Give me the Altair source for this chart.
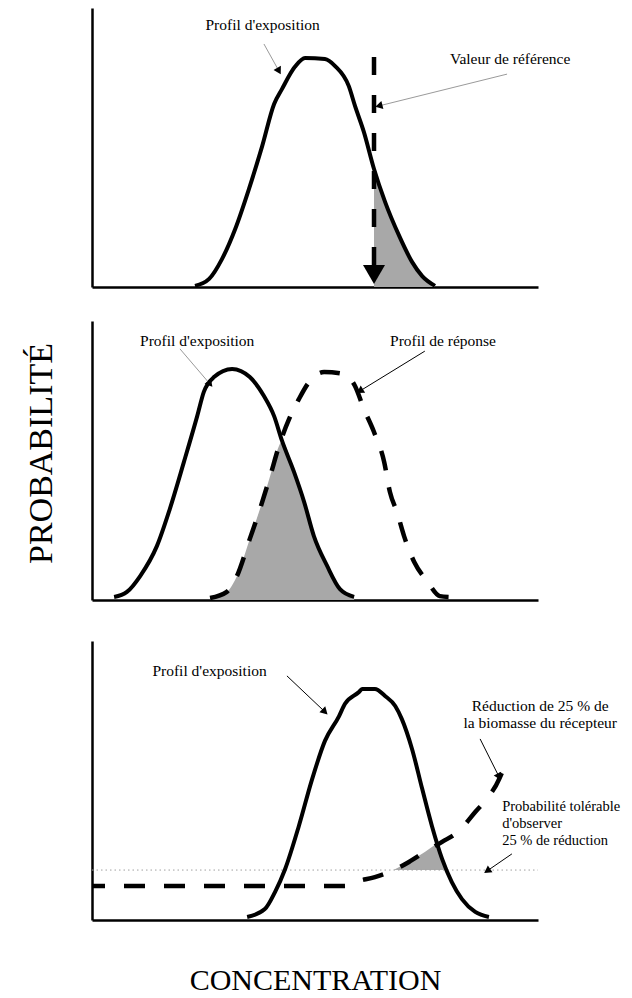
import altair as alt
import pandas as pd

# ---------------- Panel 1 : exposure profile vs reference value ----------------
exp1_x = [23.3, 26.5, 29.4, 32.4, 35.5, 38.5, 41.2, 43.0, 45.9, 48.2, 52.7, 55.0, 58.1, 59.5, 61.5, 63.8, 66.3, 69.5, 72.4, 74.7, 77.6]
exp1_y = [0.4, 2.9, 10.0, 20.8, 35.1, 50.5, 65.6, 71.0, 78.9, 82.1, 81.7, 79.2, 72.0, 64.9, 55.6, 42.3, 30.5, 18.3, 9.0, 3.9, 0.4]
ref1_x = 63.8          # reference value (concentration)
ref1_top = 82.4
ref1_base = 7.5
ref1_head = 4.5

lab1_text = ["Profil d'exposition", "Valeur de référence"]
lab1_x = [38.6, 94.6]
lab1_y = [93.9, 81.7]
arr1_x = [38.9, 93.9]
arr1_y = [87.1, 76.3]
arr1_x2 = [42.3, 64.9]
arr1_y2 = [77.4, 64.9]
arr1_col = ["#9a9a9a", "#9a9a9a"]
arr1_ang = [151, 256]

# ---------------- Panel 2 : exposure vs response profiles ----------------
exp2_x = [5.0, 7.9, 10.9, 14.7, 17.6, 20.8, 23.8, 25.3, 27.6, 31.7, 35.7, 38.9, 41.2, 43.0, 45.7, 48.0, 50.2, 53.2, 56.1, 59.3]
exp2_y = [1.1, 2.9, 8.6, 19.4, 32.6, 49.5, 65.9, 74.6, 79.9, 82.8, 79.9, 73.1, 65.9, 57.0, 45.9, 35.1, 22.9, 12.2, 3.9, 1.1]
resp2_x = [26.7, 30.5, 32.8, 35.7, 38.0, 40.3, 42.3, 44.6, 46.8, 49.3, 52.5, 57.0, 59.5, 61.5, 63.8, 66.1, 67.4, 69.0, 70.6, 72.9, 75.8, 78.7, 80.8]
resp2_y = [0.7, 2.9, 8.6, 21.9, 32.6, 44.4, 55.2, 64.9, 72.0, 78.5, 81.7, 81.0, 76.7, 68.5, 60.2, 49.5, 38.7, 31.5, 22.9, 13.6, 6.8, 1.4, 1.1]
cross2_x = 43.0

lab2_text = ["Profil d'exposition", "Profil de réponse"]
lab2_x = [23.8, 79.4]
lab2_y = [92.8, 92.8]
arr2_x = [19.9, 75.3]
arr2_y = [90.0, 89.2]
arr2_x2 = [26.7, 60.6]
arr2_y2 = [77.4, 74.9]
arr2_col = ["#9a9a9a", "black"]
arr2_ang = [139, 238]

# ---------------- Panel 3 : exposure vs dose-response ----------------
exp3_x = [35.1, 39.1, 41.4, 43.7, 46.8, 49.8, 52.7, 55.9, 57.2, 60.4, 61.1, 64.0, 66.3, 68.6, 70.1, 72.4, 74.7, 76.9, 79.2, 81.4, 83.7, 86.7, 89.8]
exp3_y = [1.1, 3.9, 10.0, 18.3, 33.7, 50.5, 64.2, 73.1, 77.4, 81.7, 82.8, 82.8, 80.3, 76.7, 72.0, 61.3, 47.0, 33.7, 21.9, 13.6, 7.5, 2.9, 1.1]
resp3_x = [0.0, 57.2, 59.5, 64.0, 67.9, 71.7, 75.3, 79.2, 83.0, 86.7, 89.8, 92.1, 93.2, 93.4]
resp3_y = [12.2, 12.2, 13.6, 15.4, 17.6, 20.8, 24.4, 28.0, 31.9, 38.7, 44.4, 50.5, 55.2, 56.6]
tol3_y = 17.9          # tolerable probability level
fill3_x = [68.2, 71.7, 75.3, 78.1, 79.2, 80.3]
fill3_y = [17.9, 20.8, 24.4, 27.5, 21.9, 17.9]

lab3_text = ["Profil d'exposition",
             "Réduction de 25 % de\nla biomasse du récepteur"]
lab3_x = [26.6, 101.4]
lab3_y = [89.2, 76.7]
lab3b_text = ["Probabilité tolérable\nd'observer\n25 % de réduction"]
lab3b_x = [92.8]
lab3b_y = [40.5]
arr3_x = [44.1, 87.8, 95.0]
arr3_y = [87.5, 64.9, 23.7]
arr3_x2 = [52.7, 92.1, 89.4]
arr3_y2 = [74.6, 51.3, 17.6]
arr3_col = ["black", "black", "black"]
arr3_ang = [134, 153, 236]

W, H = 446, 279
XDOM = [0, 100.9]
FONT = "Liberation Serif"
GRAY = "#a8a8a8"
FS = 15.5


def X(field="x", title=None, **kw):
    ax = alt.Axis(title=title, **kw) if title else alt.Axis(title=None)
    return alt.X(f"{field}:Q", scale=alt.Scale(domain=XDOM, nice=False, zero=False), axis=ax)


def Y(field="y", title=None, **kw):
    ax = alt.Axis(title=title, **kw) if title else alt.Axis(title=None)
    return alt.Y(f"{field}:Q", scale=alt.Scale(domain=[0, 100], nice=False, zero=False), axis=ax)


def arrows(xs, ys, x2s, y2s, cols, angs, xt=None, yt=None, xkw=None, ykw=None):
    df = pd.DataFrame({"x": xs, "y": ys, "x2": x2s, "y2": y2s, "c": cols, "a": angs})
    lines = alt.Chart(df).mark_rule(strokeWidth=1).encode(
        x=X(title=xt, **(xkw or {})), y=Y(title=yt, **(ykw or {})),
        x2="x2:Q", y2="y2:Q", color=alt.Color("c:N", scale=None))
    heads = alt.Chart(df).mark_point(shape="triangle-up", filled=True, size=70,
                                     color="black", opacity=1).encode(
        x=X("x2", title=xt, **(xkw or {})), y=Y("y2", title=yt, **(ykw or {})),
        angle=alt.Angle("a:Q", scale=None))
    return lines + heads


def labels(texts, xs, ys, align="center", fs=FS, xt=None, yt=None, xkw=None, ykw=None):
    df = pd.DataFrame({"x": xs, "y": ys, "t": texts})
    return alt.Chart(df).mark_text(font=FONT, fontSize=fs, align=align, baseline="middle",
                                   lineBreak="\n", lineHeight=17, color="black").encode(
        x=X(title=xt, **(xkw or {})), y=Y(title=yt, **(ykw or {})), text="t:N")


# ---------- Panel 1 ----------
d1 = pd.DataFrame({"x": exp1_x, "y": exp1_y})
fill1 = alt.Chart(d1).transform_filter(alt.datum.x >= ref1_x).mark_area(
    color=GRAY, interpolate="monotone").encode(x=X(), y=Y())
curve1 = alt.Chart(d1).mark_line(color="black", strokeWidth=4, interpolate="monotone").encode(x=X(), y=Y())
rdf = pd.DataFrame({"x": [ref1_x], "y": [ref1_top], "y2": [ref1_base], "h": [ref1_head]})
refline = alt.Chart(rdf).mark_rule(color="black", strokeWidth=4.5, strokeDash=[18, 20]).encode(
    x=X(), y=Y(), y2="y2:Q")
refhead = alt.Chart(rdf).mark_point(shape="triangle-down", filled=True, size=484,
                                    color="black", opacity=1).encode(x=X(), y=Y("h"))
p1 = alt.layer(fill1, curve1, refline, refhead,
               arrows(arr1_x, arr1_y, arr1_x2, arr1_y2, arr1_col, arr1_ang),
               labels(lab1_text, lab1_x, lab1_y)).properties(width=W, height=H)

# ---------- Panel 2 ----------
YT = dict(titleFontSize=34, titlePadding=34, titleY=132, titleFont=FONT,
          titleFontWeight="normal", titleColor="black")
d2e = pd.DataFrame({"x": exp2_x, "y": exp2_y})
d2r = pd.DataFrame({"x": resp2_x, "y": resp2_y})
ov = pd.concat([d2r[d2r.x < cross2_x], d2e[d2e.x >= cross2_x]]).sort_values("x")
fill2 = alt.Chart(ov).mark_area(color=GRAY, interpolate="monotone").encode(
    x=X(), y=Y(title="PROBABILITÉ", **YT))
curve2e = alt.Chart(d2e).mark_line(color="black", strokeWidth=4, interpolate="monotone").encode(
    x=X(), y=Y(title="PROBABILITÉ", **YT))
curve2r = alt.Chart(d2r).mark_line(color="black", strokeWidth=4.5, strokeDash=[20, 17],
                                   interpolate="monotone").encode(
    x=X(), y=Y(title="PROBABILITÉ", **YT))
p2 = alt.layer(fill2, curve2e, curve2r,
               arrows(arr2_x, arr2_y, arr2_x2, arr2_y2, arr2_col, arr2_ang, yt="PROBABILITÉ", ykw=YT),
               labels(lab2_text, lab2_x, lab2_y, yt="PROBABILITÉ", ykw=YT)).properties(width=W, height=H)

# ---------- Panel 3 ----------
XT = dict(titleFontSize=30, titlePadding=45, titleFont=FONT, titleFontWeight="normal", titleColor="black")
d3e = pd.DataFrame({"x": exp3_x, "y": exp3_y})
d3r = pd.DataFrame({"x": resp3_x, "y": resp3_y})
d3f = pd.DataFrame({"x": fill3_x, "y": fill3_y, "y2": [tol3_y] * len(fill3_x)})
tdf = pd.DataFrame({"x": [XDOM[0]], "x2": [XDOM[1]], "y": [tol3_y]})
gap = alt.Chart(tdf).mark_rule(opacity=0).encode(
    x=alt.value(0), y=alt.value(-6), y2=alt.value(0))
fill3 = alt.Chart(d3f).mark_area(color=GRAY).encode(
    x=X(title="CONCENTRATION", **XT), y=Y(), y2="y2:Q")
tol = alt.Chart(tdf).mark_rule(color="#a0a0a0", strokeWidth=1, strokeDash=[1.5, 3]).encode(
    x=X(title="CONCENTRATION", **XT), x2="x2:Q", y=Y())
curve3e = alt.Chart(d3e).mark_line(color="black", strokeWidth=4, interpolate="monotone").encode(
    x=X(title="CONCENTRATION", **XT), y=Y())
curve3r = alt.Chart(d3r).mark_line(color="black", strokeWidth=4.5, strokeDash=[21, 19],
                                   strokeDashOffset=8, interpolate="monotone").encode(
    x=X(title="CONCENTRATION", **XT), y=Y())
p3 = alt.layer(fill3, tol, curve3e, curve3r,
               arrows(arr3_x, arr3_y, arr3_x2, arr3_y2, arr3_col, arr3_ang, xt="CONCENTRATION", xkw=XT),
               labels(lab3_text, lab3_x, lab3_y, xt="CONCENTRATION", xkw=XT),
               labels(lab3b_text, lab3b_x, lab3b_y, align="left", fs=14.5, xt="CONCENTRATION", xkw=XT),
               gap
               ).properties(width=W, height=H)

chart = alt.vconcat(p1, p2, p3, spacing=27).properties(
    padding={"left": 16, "top": 0, "right": 0, "bottom": 0},
    background="white",
).configure_view(stroke=None).configure_axis(
    domainColor="black", domainWidth=2.5, ticks=False, labels=False, grid=False,
    titleFont=FONT, titleFontWeight="normal", titleColor="black")

chart.save("out.html", embed_options={"renderer": "svg", "actions": False})
